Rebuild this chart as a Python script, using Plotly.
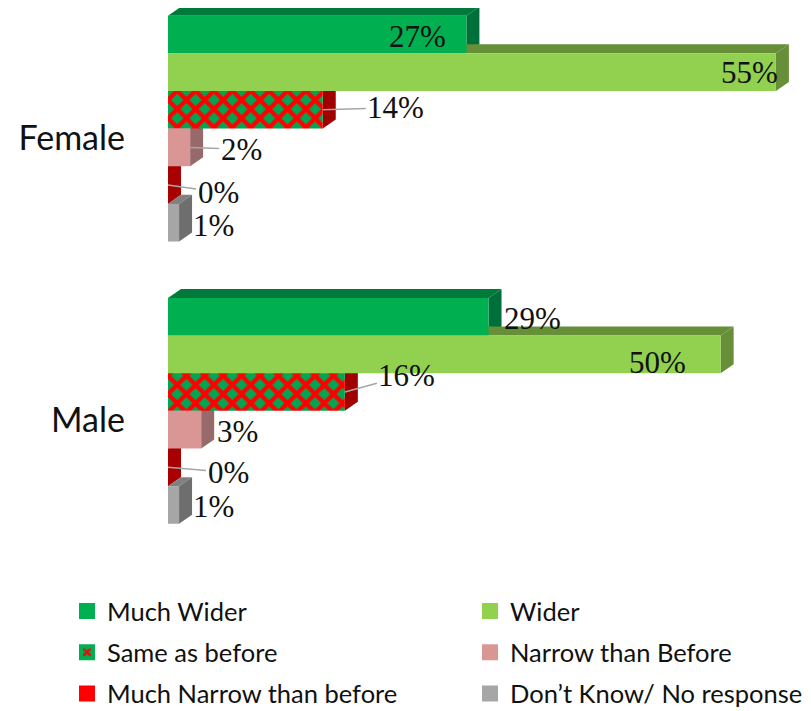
import plotly.graph_objects as go

categories = ["Female", "Male"]
much_wider = [27, 29]
wider = [55, 50]
same_as_before = [14, 16]
narrow = [2, 3]
much_narrow = [0, 0]
dont_know = [1, 1]

series = [
    ("Much Wider", much_wider, "#00B050", "#007A3A", "#00703A"),
    ("Wider", wider, "#92D050", "#668F38", "#668F38"),
    ("Same as before", same_as_before, "#00A651", "#A00000", "#A00000"),
    ("Narrow than Before", narrow, "#D99694", "#98696A", "#98696A"),
    ("Much Narrow than before", much_narrow, "#FF0000", "#A80000", "#A80000"),
    ("Don\u2019t Know/ No response", dont_know, "#A6A6A6", "#808080", "#6E6E6E"),
]

# label centre offset from the bar's end, in pixels, and whether a leader line is drawn
label_offsets = {
    "Much Wider": [(-49, 2, False), (44, 2, False)],
    "Wider": [(-26, 0, False), (-63, 8, False)],
    "Same as before": [(73, -2, True), (62, -17, True)],
    "Narrow than Before": [(51, 2, True), (36, 2, False)],
    "Much Narrow than before": [(50, 7, True), (60, 5, True)],
    "Don\u2019t Know/ No response": [(34, 3, False), (34, 2, False)],
}

W, H = 811, 711
ML, MR, MT, MB = 160, 21, 0, 167
XMAX = 57
PX_X = (W - ML - MR) / XMAX
CAT_PX = 282
DX, DY = 13 / PX_X, 9 / CAT_PX
BAR_W = 0.8 / len(series)

fig = go.Figure()
shapes = []
annotations = []

for i, (name, vals, col, top, side) in enumerate(series):
    marker = dict(color=col, line=dict(width=0))
    if name == "Same as before":
        marker["pattern"] = dict(shape="x", bgcolor="#00A651", fgcolor="#FF0000",
                                 fgopacity=1, size=13, solidity=0.55, fillmode="replace")
    fig.add_trace(go.Bar(y=list(range(len(categories))), x=vals, name=name,
                         orientation="h", marker=marker, showlegend=False))
    for c, v in enumerate(vals):
        yc = c + (i - (len(series) - 1) / 2) * BAR_W
        y0, y1 = yc - BAR_W / 2, yc + BAR_W / 2
        shapes.append(dict(type="path", layer="below", xref="x", yref="y", line_width=0, fillcolor=top,
                           path=f"M0,{y0} L{DX},{y0-DY} L{v+DX},{y0-DY} L{v},{y0} Z"))
        shapes.append(dict(type="path", layer="below", xref="x", yref="y", line_width=0, fillcolor=side,
                           path=f"M{v},{y0} L{v+DX},{y0-DY} L{v+DX},{y1-DY} L{v},{y1} Z"))
        ox, oy, leader = label_offsets[name][c]
        annotations.append(dict(x=v, y=yc, xref="x", yref="y", text=f"{v}%", showarrow=True,
                                ax=ox, ay=oy, axref="pixel", ayref="pixel",
                                arrowhead=0, arrowwidth=1.5,
                                arrowcolor="#A6A6A6" if leader else "rgba(0,0,0,0)",
                                font=dict(family="Liberation Serif", size=31, color="#111111")))

# legend swatches
for i, (name, vals, col, top, side) in enumerate(series):
    swatch_col = "#00B050" if name == "Same as before" else col
    marker = dict(color=col, line=dict(width=4, color=swatch_col))
    if name == "Same as before":
        marker["pattern"] = dict(shape="x", bgcolor="#00A651", fgcolor="#FF0000",
                                 fgopacity=1, size=7, solidity=0.6, fillmode="replace")
    fig.add_trace(go.Bar(y=[None], x=[None], name=name, orientation="h", marker=marker,
                         xaxis="x2", yaxis="y2", showlegend=True,
                         legend="legend" if i % 2 == 0 else "legend2",
                         legendgroup=name))

legend_common = dict(xref="container", yref="container", yanchor="top", xanchor="left",
                     tracegroupgap=5, traceorder="grouped", bgcolor="rgba(0,0,0,0)",
                     font=dict(family="Lato", size=25.5, color="#111111"), itemclick=False, itemdoubleclick=False)

fig.update_layout(
    width=W, height=H, margin=dict(l=ML, r=MR, t=MT, b=MB, pad=0, autoexpand=False),
    paper_bgcolor="white", plot_bgcolor="white", barmode="group", bargap=0.2, bargroupgap=0,
    font=dict(family="Lato", color="#111111"),
    xaxis=dict(range=[0, XMAX], visible=False, fixedrange=True),
    yaxis=dict(range=[1.5, -(128.5 - 8) / CAT_PX], tickmode="array", tickvals=[0, 1], ticktext=categories,
               showgrid=False, zeroline=False, showline=False, ticks="", ticklabelstandoff=42,
               ticklabelshift=-9, tickfont=dict(family="Lato", size=34, color="#111111"), fixedrange=True),
    xaxis2=dict(overlaying="x", visible=False, range=[0, 1]),
    yaxis2=dict(overlaying="y", visible=False, range=[0, 1]),
    legend=dict(x=59 / W, y=1 - 580 / H, **legend_common),
    legend2=dict(x=462 / W, y=1 - 580 / H, **legend_common),
    shapes=shapes, annotations=annotations,
)
fig.write_html("out.html", config={"displayModeBar": False})
